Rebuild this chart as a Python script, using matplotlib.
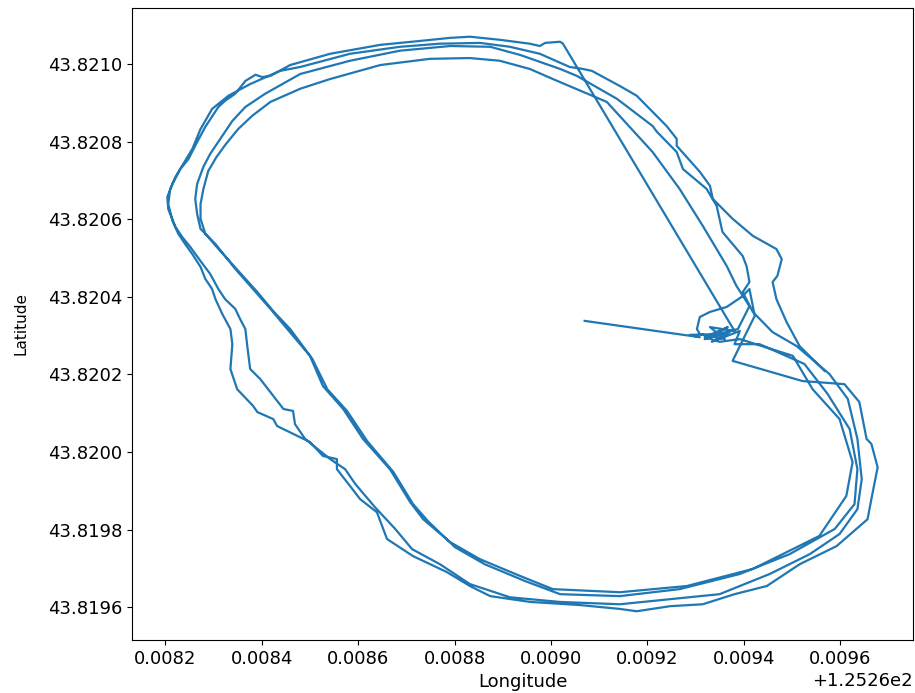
import numpy as np
import matplotlib
matplotlib.use("Agg")
import matplotlib.pyplot as plt

# GPS track, values in micro-degrees above 125.26 (lon) and 43.82 (lat)
lap1_lon = [9070, 9309, 9288, 9350, 9319, 9371, 9334, 9392, 9381, 9433,
            9526, 9574, 9620, 9636, 9630, 9589, 9495, 9392, 9267, 9143,
            9019, 8946, 8863, 8801, 8745, 8714, 8673, 8619, 8577, 8536,
            8505, 8459, 8424, 8389, 8351, 8314, 8283, 8273, 8273, 8279,
            8289, 8306, 8326, 8351, 8380, 8418, 8480, 8542, 8646, 8749,
            8832, 8894, 8956, 9004, 9116, 9211, 9267, 9315, 9365, 9385,
            9412, 9388, 9340, 9367, 9319, 9350]
lap1_lat = [338, 296, 302, 304, 291, 309, 284, 312, 278, 278,
            227, 150, 59, -44, -134, -198, -263, -314, -353, -371,
            -366, -332, -289, -245, -178, -134, -51, 28, 106, 162,
            240, 317, 363, 415, 467, 518, 562, 601, 639, 678,
            724, 760, 794, 832, 866, 902, 936, 961, 997, 1013,
            1015, 1008, 987, 961, 902, 773, 678, 583, 479, 428,
            376, 317, 302, 322, 296, 284]

lap2_lon = [9392, 9502, 9543, 9599, 9626, 9613, 9557, 9419, 9282, 9143,
            9004, 8936, 8853, 8791, 8735, 8708, 8666, 8610, 8569, 8527,
            8500, 8453, 8418, 8382, 8345, 8304, 8273, 8266, 8262, 8266,
            8279, 8293, 8314, 8339, 8366, 8407, 8480, 8583, 8687, 8791,
            8874, 8936, 9019, 9054, 9137, 9211, 9220, 9261, 9274, 9323,
            9344, 9356, 9398, 9406, 9412, 9398, 9419, 9460, 9510]
lap2_lat = [291, 248, 162, 85, -26, -113, -216, -301, -345, -361,
            -353, -319, -276, -232, -173, -129, -44, 34, 111, 170,
            248, 317, 369, 420, 472, 536, 575, 613, 652, 691,
            735, 768, 807, 853, 889, 923, 974, 1008, 1034, 1046,
            1044, 1023, 987, 969, 910, 840, 825, 773, 729, 678,
            634, 567, 505, 479, 438, 412, 361, 309, 273]

lap3_lon = [9578, 9616, 9636, 9645, 9636, 9599, 9537, 9454, 9350, 9247,
            9143, 9019, 8915, 8832, 8770, 8712, 8677, 8635, 8594, 8573,
            8542, 8490, 8469, 8465, 8445, 8397, 8376, 8370, 8366, 8355,
            8345, 8324, 8310, 8293, 8273, 8252, 8235, 8221, 8206, 8204,
            8215, 8231, 8248, 8264, 8283, 8310, 8324, 8345, 8366, 8387,
            8401, 8418, 8459, 8542, 8646, 8728, 8791, 8832, 8894, 8956,
            8977, 8988, 9019, 9025, 9381, 9330, 9361, 9309, 9303, 9309,
            9330, 9365, 9396, 9412, 9423, 9377, 9522, 9609]
lap3_lat = [201, 137, 34, -70, -147, -211, -263, -314, -366, -379,
            -392, -386, -374, -340, -289, -250, -198, -142, -82, -44,
            -18, 34, 72, 106, 111, 188, 214, 273, 317, 343,
            369, 394, 420, 459, 492, 528, 554, 580, 626, 657,
            691, 729, 755, 794, 838, 889, 905, 923, 956, 972,
            966, 969, 997, 1026, 1049, 1059, 1067, 1070, 1062, 1052,
            1046, 1054, 1057, 1052, 312, 322, 291, 304, 317, 348,
            361, 374, 400, 420, 351, 235, 183, 175]

lap4_lon = [9640, 9655, 9665, 9678, 9665, 9657, 9593, 9516, 9448, 9381,
            9315, 9247, 9178, 9143, 9060, 8957, 8874, 8832, 8784, 8714,
            8660, 8639, 8604, 8583, 8556, 8556, 8527, 8500, 8432, 8424,
            8391, 8382, 8349, 8335, 8339, 8335, 8318, 8304, 8297, 8283,
            8273, 8256, 8241, 8227, 8215, 8206, 8210, 8221, 8237, 8256,
            8273, 8297, 8318, 8331, 8376, 8438, 8480, 8583, 8687, 8770,
            8853, 8915, 8977, 9039, 9066, 9085, 9143, 9178, 9240, 9261,
            9261, 9309, 9330, 9336, 9377, 9419, 9468, 9479, 9470, 9460,
            9468, 9489, 9516, 9568]
lap4_lat = [129, 34, 21, -39, -121, -173, -242, -289, -345, -366,
            -392, -397, -410, -404, -394, -386, -371, -345, -309, -268,
            -224, -155, -121, -87, -44, -18, -10, 26, 67, 85,
            103, 119, 162, 214, 278, 317, 356, 394, 420, 446,
            477, 510, 536, 562, 595, 639, 678, 709, 742, 781,
            832, 884, 905, 918, 948, 982, 992, 1026, 1044, 1052,
            1054, 1044, 1026, 992, 987, 982, 943, 918, 840, 807,
            789, 722, 686, 652, 601, 557, 523, 497, 454, 438,
            394, 335, 273, 209]

lon = 125.26 + np.array(lap1_lon + lap2_lon + lap3_lon + lap4_lon) * 1e-6
lat = 43.82 + np.array(lap1_lat + lap2_lat + lap3_lat + lap4_lat) * 1e-6

fig = plt.figure(figsize=(9.15, 6.93), dpi=100)
ax = fig.add_axes([0.144, 0.0765, 0.854, 0.912])
ax.plot(lon, lat, color='#1f77b4', linewidth=1.6)
ax.tick_params(labelsize=13)
ax.xaxis.get_offset_text().set_fontsize(13)
ax.set_xlabel('Longitude', fontsize=13)
ax.set_ylabel('Latitude', fontsize=11, labelpad=14)

plt.savefig('out.png', dpi=100)
